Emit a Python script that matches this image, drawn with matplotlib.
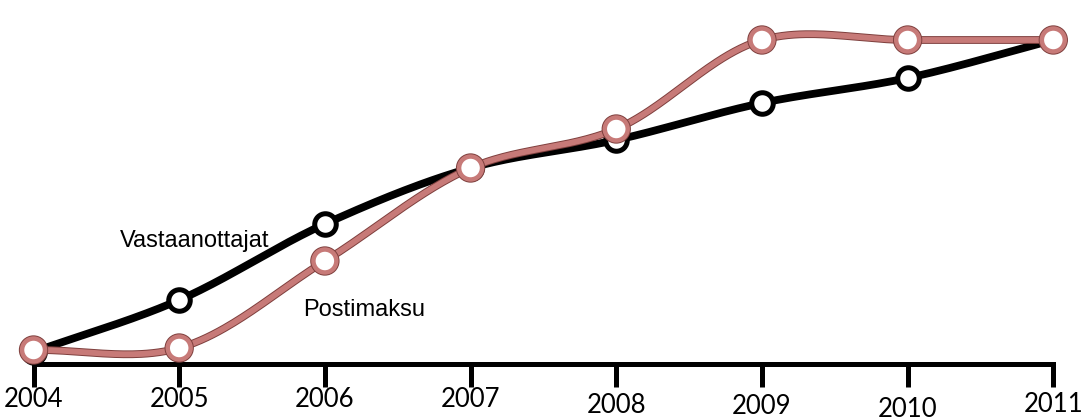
import numpy as np
import matplotlib.pyplot as plt
from matplotlib import patheffects as pe
from matplotlib.transforms import ScaledTranslation

years = [2004, 2005, 2006, 2007, 2008, 2009, 2010, 2011]
vastaanottajat = [0, 52, 128, 184, 212, 249, 274, 312]
postimaksu = [2, 4, 91, 184, 223, 312, 312, 312]
tick_labels = ['2004', '2005', '2006', '2007', '2008', '2009', '2010', '2011']
label_drop = [0, 0, 0, 0, 4.5, 5, 7, 4]  # points, labels sit a bit unevenly

XSCALE = 145.4  # px per year, y units are already ~px


def centripetal(x, y, n=50, alpha=0.5):
    # centripetal catmull-rom, computed in (approx) screen space
    pts = np.column_stack([np.asarray(x, float) * XSCALE, np.asarray(y, float)])
    pts = np.vstack([2 * pts[0] - pts[1], pts, 2 * pts[-1] - pts[-2]])
    out = []
    for i in range(1, len(pts) - 2):
        p0, p1, p2, p3 = pts[i - 1], pts[i], pts[i + 1], pts[i + 2]
        t0 = 0.0
        t1 = t0 + np.linalg.norm(p1 - p0) ** alpha
        t2 = t1 + np.linalg.norm(p2 - p1) ** alpha
        t3 = t2 + np.linalg.norm(p3 - p2) ** alpha
        t = np.linspace(t1, t2, n)[:, None]
        a1 = (t1 - t) / (t1 - t0) * p0 + (t - t0) / (t1 - t0) * p1
        a2 = (t2 - t) / (t2 - t1) * p1 + (t - t1) / (t2 - t1) * p2
        a3 = (t3 - t) / (t3 - t2) * p2 + (t - t2) / (t3 - t2) * p3
        b1 = (t2 - t) / (t2 - t0) * a1 + (t - t0) / (t2 - t0) * a2
        b2 = (t3 - t) / (t3 - t1) * a2 + (t - t1) / (t3 - t1) * a3
        out.append((t2 - t) / (t2 - t1) * b1 + (t - t1) / (t2 - t1) * b2)
    c = np.vstack(out)
    return c[:, 0] / XSCALE, c[:, 1]


fig = plt.figure(figsize=(10.81, 4.19), dpi=100)
ax = fig.add_axes([0, 0, 1, 1])
ax.set_xlim(2003.77, 2011.19)
ax.set_ylim(-67, 352)

pink = '#c77a78'
dark = '#7e3f3d'

# black series
cx, cy = centripetal(years, vastaanottajat)
ax.plot(cx, cy, color='black', lw=5.6, solid_capstyle='round', zorder=2)
ax.plot(years, vastaanottajat, ls='none', marker='o', ms=15.5, mfc='white',
        mec='black', mew=3.6, zorder=3)

# pink series
cx, cy = centripetal(years, postimaksu)
ax.plot(cx, cy, color=pink, lw=4.2, solid_capstyle='round', zorder=4,
        path_effects=[pe.Stroke(linewidth=5.6, foreground=dark), pe.Normal()])
ax.plot(years, postimaksu, ls='none', marker='o', ms=16.5, mfc='white',
        mec=pink, mew=3.2, zorder=5,
        path_effects=[pe.Stroke(linewidth=4.6, foreground=dark), pe.Normal()])

ax.text(2004.59, 111, 'Vastaanottajat', fontsize=17, family='Liberation Sans',
        va='center', ha='left')
ax.text(2005.85, 42, 'Postimaksu', fontsize=17, family='Liberation Sans',
        va='center', ha='left')

for s in ['top', 'right', 'left']:
    ax.spines[s].set_visible(False)
ax.spines['bottom'].set_position(('data', -12))
ax.spines['bottom'].set_bounds(2004, 2011)
ax.spines['bottom'].set_linewidth(3.6)
ax.set_yticks([])
ax.set_xticks(years)
ax.set_xticklabels(tick_labels, family='Lato', fontsize=18.5)
ax.tick_params(axis='x', length=16.5, width=3.6, pad=0)
for lbl, d in zip(ax.get_xticklabels(), label_drop):
    lbl.set_transform(lbl.get_transform() + ScaledTranslation(0, -d / 72, fig.dpi_scale_trans))

fig.savefig('out.png', dpi=100)
